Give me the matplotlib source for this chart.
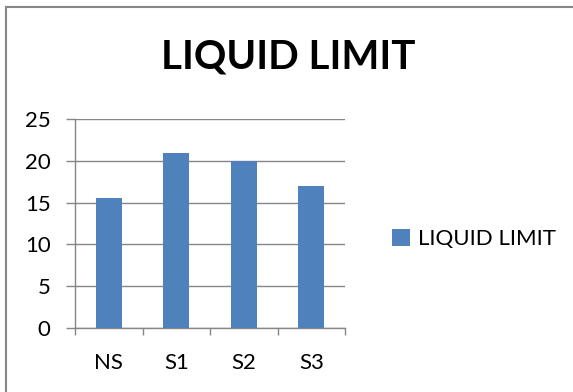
import matplotlib.pyplot as plt
import numpy as np

# liquid limit for each sample
categories = ['NS', 'S1', 'S2', 'S3']
liquid_limit = [15.5, 21, 20, 17]
yticks = [0, 5, 10, 15, 20, 25]

plt.rcParams['font.family'] = ['Lato', 'DejaVu Sans']

fig = plt.figure(figsize=(5.73, 3.92), dpi=100)
W, H = 573., 392.
ax = fig.add_axes([75 / W, 1 - 327.7 / H, 270 / W, 208.4 / H])

x = np.arange(len(categories))
ax.bar(x, liquid_limit, width=0.385, color='#4F81BD', label='LIQUID LIMIT', zorder=3)

ax.set_xlim(-0.5, len(categories) - 0.5)
ax.set_ylim(0, 25)
ax.set_yticks(yticks)
ax.set_xticks(x)
ax.set_xticklabels(categories)
ax.set_xticks(np.arange(-0.5, len(categories)), minor=True)
ax.tick_params(axis='x', which='major', length=0, labelsize=16, pad=18)
ax.tick_params(axis='x', which='minor', length=5, color='#868686', width=1)
ax.tick_params(axis='y', length=6.5, color='#868686', width=1, labelsize=16, pad=11)

ax.grid(axis='y', color='#868686', linewidth=1, zorder=0)
for s in ['top', 'right']:
    ax.spines[s].set_visible(False)
for s in ['left', 'bottom']:
    ax.spines[s].set_color('#868686')
    ax.spines[s].set_linewidth(1)

fig.text(288 / W, 1 - 57 / H, 'LIQUID LIMIT', ha='center', va='center',
         fontsize=29, fontweight='bold')

ax.legend(loc='center left', bbox_to_anchor=(372 / W, 1 - 239 / H),
          bbox_transform=fig.transFigure, frameon=False, fontsize=16,
          handlelength=0.8, handleheight=0.8, handletextpad=0.35)

# chart border
fig.add_artist(plt.Line2D([5.5 / W, 5.5 / W], [0, 1 - 6.5 / H], color='#868686', linewidth=1.5,
                          transform=fig.transFigure))
fig.add_artist(plt.Line2D([5.5 / W, 1], [1 - 6.5 / H, 1 - 6.5 / H], color='#868686', linewidth=1.5,
                          transform=fig.transFigure))

fig.savefig('out.png', dpi=100)
